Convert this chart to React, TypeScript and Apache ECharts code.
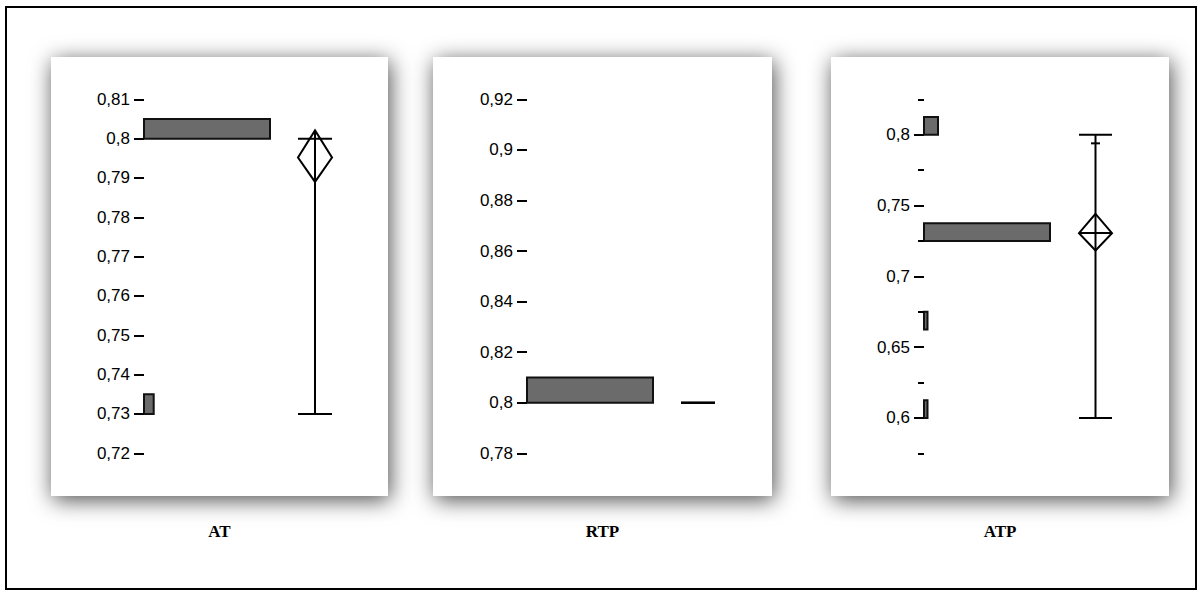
import React, { useEffect, useRef } from 'react';
import * as echarts from 'echarts';

// ---- data ----
const panelNames = ['AT', 'RTP', 'ATP'];

// histogram bins: [binStart, binEnd, count]
const atBins = [
  [0.8, 0.805, 39],
  [0.73, 0.735, 3],
];
const rtpBins = [[0.8, 0.81, 42]];
const atpBins = [
  [0.8, 0.8125, 4],
  [0.725, 0.7375, 36],
  [0.6625, 0.675, 1],
  [0.6, 0.6125, 1],
];

// box / means diamond: [min, max, mean, ciLow, ciHigh]
const atBox = [0.73, 0.8, 0.7952, 0.789, 0.8021];
const rtpBox = [0.8, 0.8, 0.8, 0.8, 0.8];
const atpBox = [0.6, 0.8, 0.7305, 0.7182, 0.7441];
const atpMarks = [0.7939];
const meanLineShown = [false, false, true];

// tick axes: [min, max, step]
const atTicks = [0.72, 0.81, 0.01];
const rtpTicks = [0.78, 0.92, 0.02];
const atpTicks = [0.6, 0.8, 0.05];
const atpMinorTicks = [0.575, 0.825, 0.05];

// ---- layout ----
const plotTop = 99.3;
const plotH = 354;
const histW = 126;
const panelRects = [
  [51, 57, 337, 439],
  [433, 57, 339, 439],
  [831, 57, 338, 439],
];
const axisXs = [144, 527, 924];
const boxXs = [298, 681, 1079];
const boxWs = [34, 34, 33];
const labelY = 531;

const fmt = (v: number) => String(+v.toFixed(3)).replace('.', ',');

export default function App() {
  const ref = useRef<HTMLDivElement>(null);
  useEffect(() => {
    const chart = echarts.init(ref.current!, null, { renderer: 'svg' });

    const binsAll = [atBins, rtpBins, atpBins];
    const boxAll = [atBox, rtpBox, atpBox];
    const marksAll = [[], [], atpMarks];
    const rangeAll = [atTicks, rtpTicks, atpMinorTicks];

    const grids: any[] = [];
    const xAxes: any[] = [];
    const yAxes: any[] = [];
    const series: any[] = [];

    const tickAxis = (gi: number, r: number[], len: number, labels: boolean) => ({
      gridIndex: gi,
      type: 'value',
      min: r[0],
      max: r[1],
      interval: r[2],
      z: 5,
      axisLine: { show: false },
      splitLine: { show: false },
      axisTick: { show: true, length: len, lineStyle: { color: '#000', width: 2 } },
      axisLabel: {
        show: labels,
        margin: 14,
        color: '#000',
        fontFamily: 'Liberation Sans',
        fontSize: 17,
        formatter: fmt,
      },
    });

    for (let p = 0; p < 3; p++) {
      const r = rangeAll[p];
      // histogram grid
      const hg = grids.length;
      grids.push({ left: axisXs[p], top: plotTop, width: histW, height: plotH });
      const counts = binsAll[p].map((b) => b[2]);
      xAxes.push({ gridIndex: hg, type: 'value', min: 0, max: Math.max(...counts), show: false });
      const hy = yAxes.length;
      yAxes.push(tickAxis(hg, r, p === 2 ? 6 : 10, p !== 2));
      series.push({
        type: 'custom',
        xAxisIndex: hg,
        yAxisIndex: hy,
        clip: false,
        z: 3,
        data: binsAll[p],
        encode: { x: 2, y: [0, 1] },
        renderItem: (params: any, api: any) => {
          const s = api.value(0);
          const e = api.value(1);
          const c = api.value(2);
          const p0 = api.coord([0, s]);
          const p1 = api.coord([c, e]);
          return {
            type: 'rect',
            shape: { x: p0[0], y: p1[1], width: p1[0] - p0[0], height: p0[1] - p1[1] },
            style: { fill: '#6b6b6b', stroke: '#111', lineWidth: 2 },
          };
        },
      });

      // box grid
      const bg = grids.length;
      grids.push({ left: boxXs[p], top: plotTop, width: boxWs[p], height: plotH });
      xAxes.push({ gridIndex: bg, type: 'value', min: 0, max: 1, show: false });
      const by = yAxes.length;
      yAxes.push({ gridIndex: bg, type: 'value', min: r[0], max: r[1], show: false });
      const marks = marksAll[p];
      const showMean = meanLineShown[p];
      series.push({
        type: 'custom',
        xAxisIndex: bg,
        yAxisIndex: by,
        clip: false,
        z: 3,
        data: [boxAll[p]],
        encode: { y: [0, 1, 2, 3, 4] },
        renderItem: (params: any, api: any) => {
          const vMin = api.value(0);
          const vMax = api.value(1);
          const vMean = api.value(2);
          const vLo = api.value(3);
          const vHi = api.value(4);
          const L = api.coord([0, vMin])[0];
          const R = api.coord([1, vMin])[0];
          const C = api.coord([0.5, vMin])[0];
          const yMin = api.coord([0, vMin])[1];
          const yMax = api.coord([0, vMax])[1];
          const yMean = api.coord([0, vMean])[1];
          const yLo = api.coord([0, vLo])[1];
          const yHi = api.coord([0, vHi])[1];
          const st = { stroke: '#000', lineWidth: 2, fill: 'none' };
          const children: any[] = [
            { type: 'line', shape: { x1: L, y1: yMin, x2: R, y2: yMin }, style: st },
            { type: 'line', shape: { x1: L, y1: yMax, x2: R, y2: yMax }, style: st },
            { type: 'line', shape: { x1: C, y1: yMin, x2: C, y2: Math.min(yMax, yHi) }, style: st },
            {
              type: 'polygon',
              shape: { points: [[C, yHi], [R, yMean], [C, yLo], [L, yMean]] },
              style: st,
            },
          ];
          if (showMean) {
            children.push({ type: 'line', shape: { x1: L, y1: yMean, x2: R, y2: yMean }, style: st });
          }
          marks.forEach((m: number) => {
            const ym = api.coord([0, m])[1];
            children.push({ type: 'line', shape: { x1: C - 4.5, y1: ym, x2: C + 4.5, y2: ym }, style: st });
          });
          return { type: 'group', children };
        },
      });
    }

    // ATP labelled ticks on a grid spanning 0.6..0.8
    const full = atpMinorTicks[1] - atpMinorTicks[0];
    const lgTop = plotTop + ((atpMinorTicks[1] - atpTicks[1]) / full) * plotH;
    const lgH = ((atpTicks[1] - atpTicks[0]) / full) * plotH;
    const lg = grids.length;
    grids.push({ left: axisXs[2], top: lgTop, width: histW, height: lgH });
    xAxes.push({ gridIndex: lg, type: 'value', min: 0, max: 1, show: false });
    yAxes.push(tickAxis(lg, atpTicks, 10, true));

    const graphics: any[] = [
      {
        type: 'rect',
        z: -10,
        shape: { x: 6, y: 7, width: 1190, height: 582 },
        style: { fill: 'none', stroke: '#000', lineWidth: 2 },
      },
    ];
    panelRects.forEach((pr) => {
      graphics.push({
        type: 'rect',
        z: -9,
        shape: { x: pr[0], y: pr[1], width: pr[2], height: pr[3] },
        style: {
          fill: '#fff',
          shadowBlur: 22,
          shadowColor: 'rgba(0,0,0,0.7)',
          shadowOffsetX: 2,
          shadowOffsetY: 4,
        },
      });
    });
    panelNames.forEach((n, i) => {
      const pr = panelRects[i];
      graphics.push({
        type: 'text',
        z: -8,
        style: {
          text: n,
          x: pr[0] + pr[2] / 2,
          y: labelY,
          textAlign: 'center',
          textVerticalAlign: 'middle',
          font: 'bold 17px "Liberation Serif"',
          fill: '#000',
        },
      });
    });

    chart.setOption({
      animation: false,
      backgroundColor: '#fff',
      grid: grids,
      xAxis: xAxes,
      yAxis: yAxes,
      series,
      graphic: { elements: graphics },
    });
    return () => chart.dispose();
  }, []);
  return (
    <div
      ref={ref}
      style={{ position: 'absolute', left: 0, top: 0, width: 1202, height: 596 }}
    />
  );
}
